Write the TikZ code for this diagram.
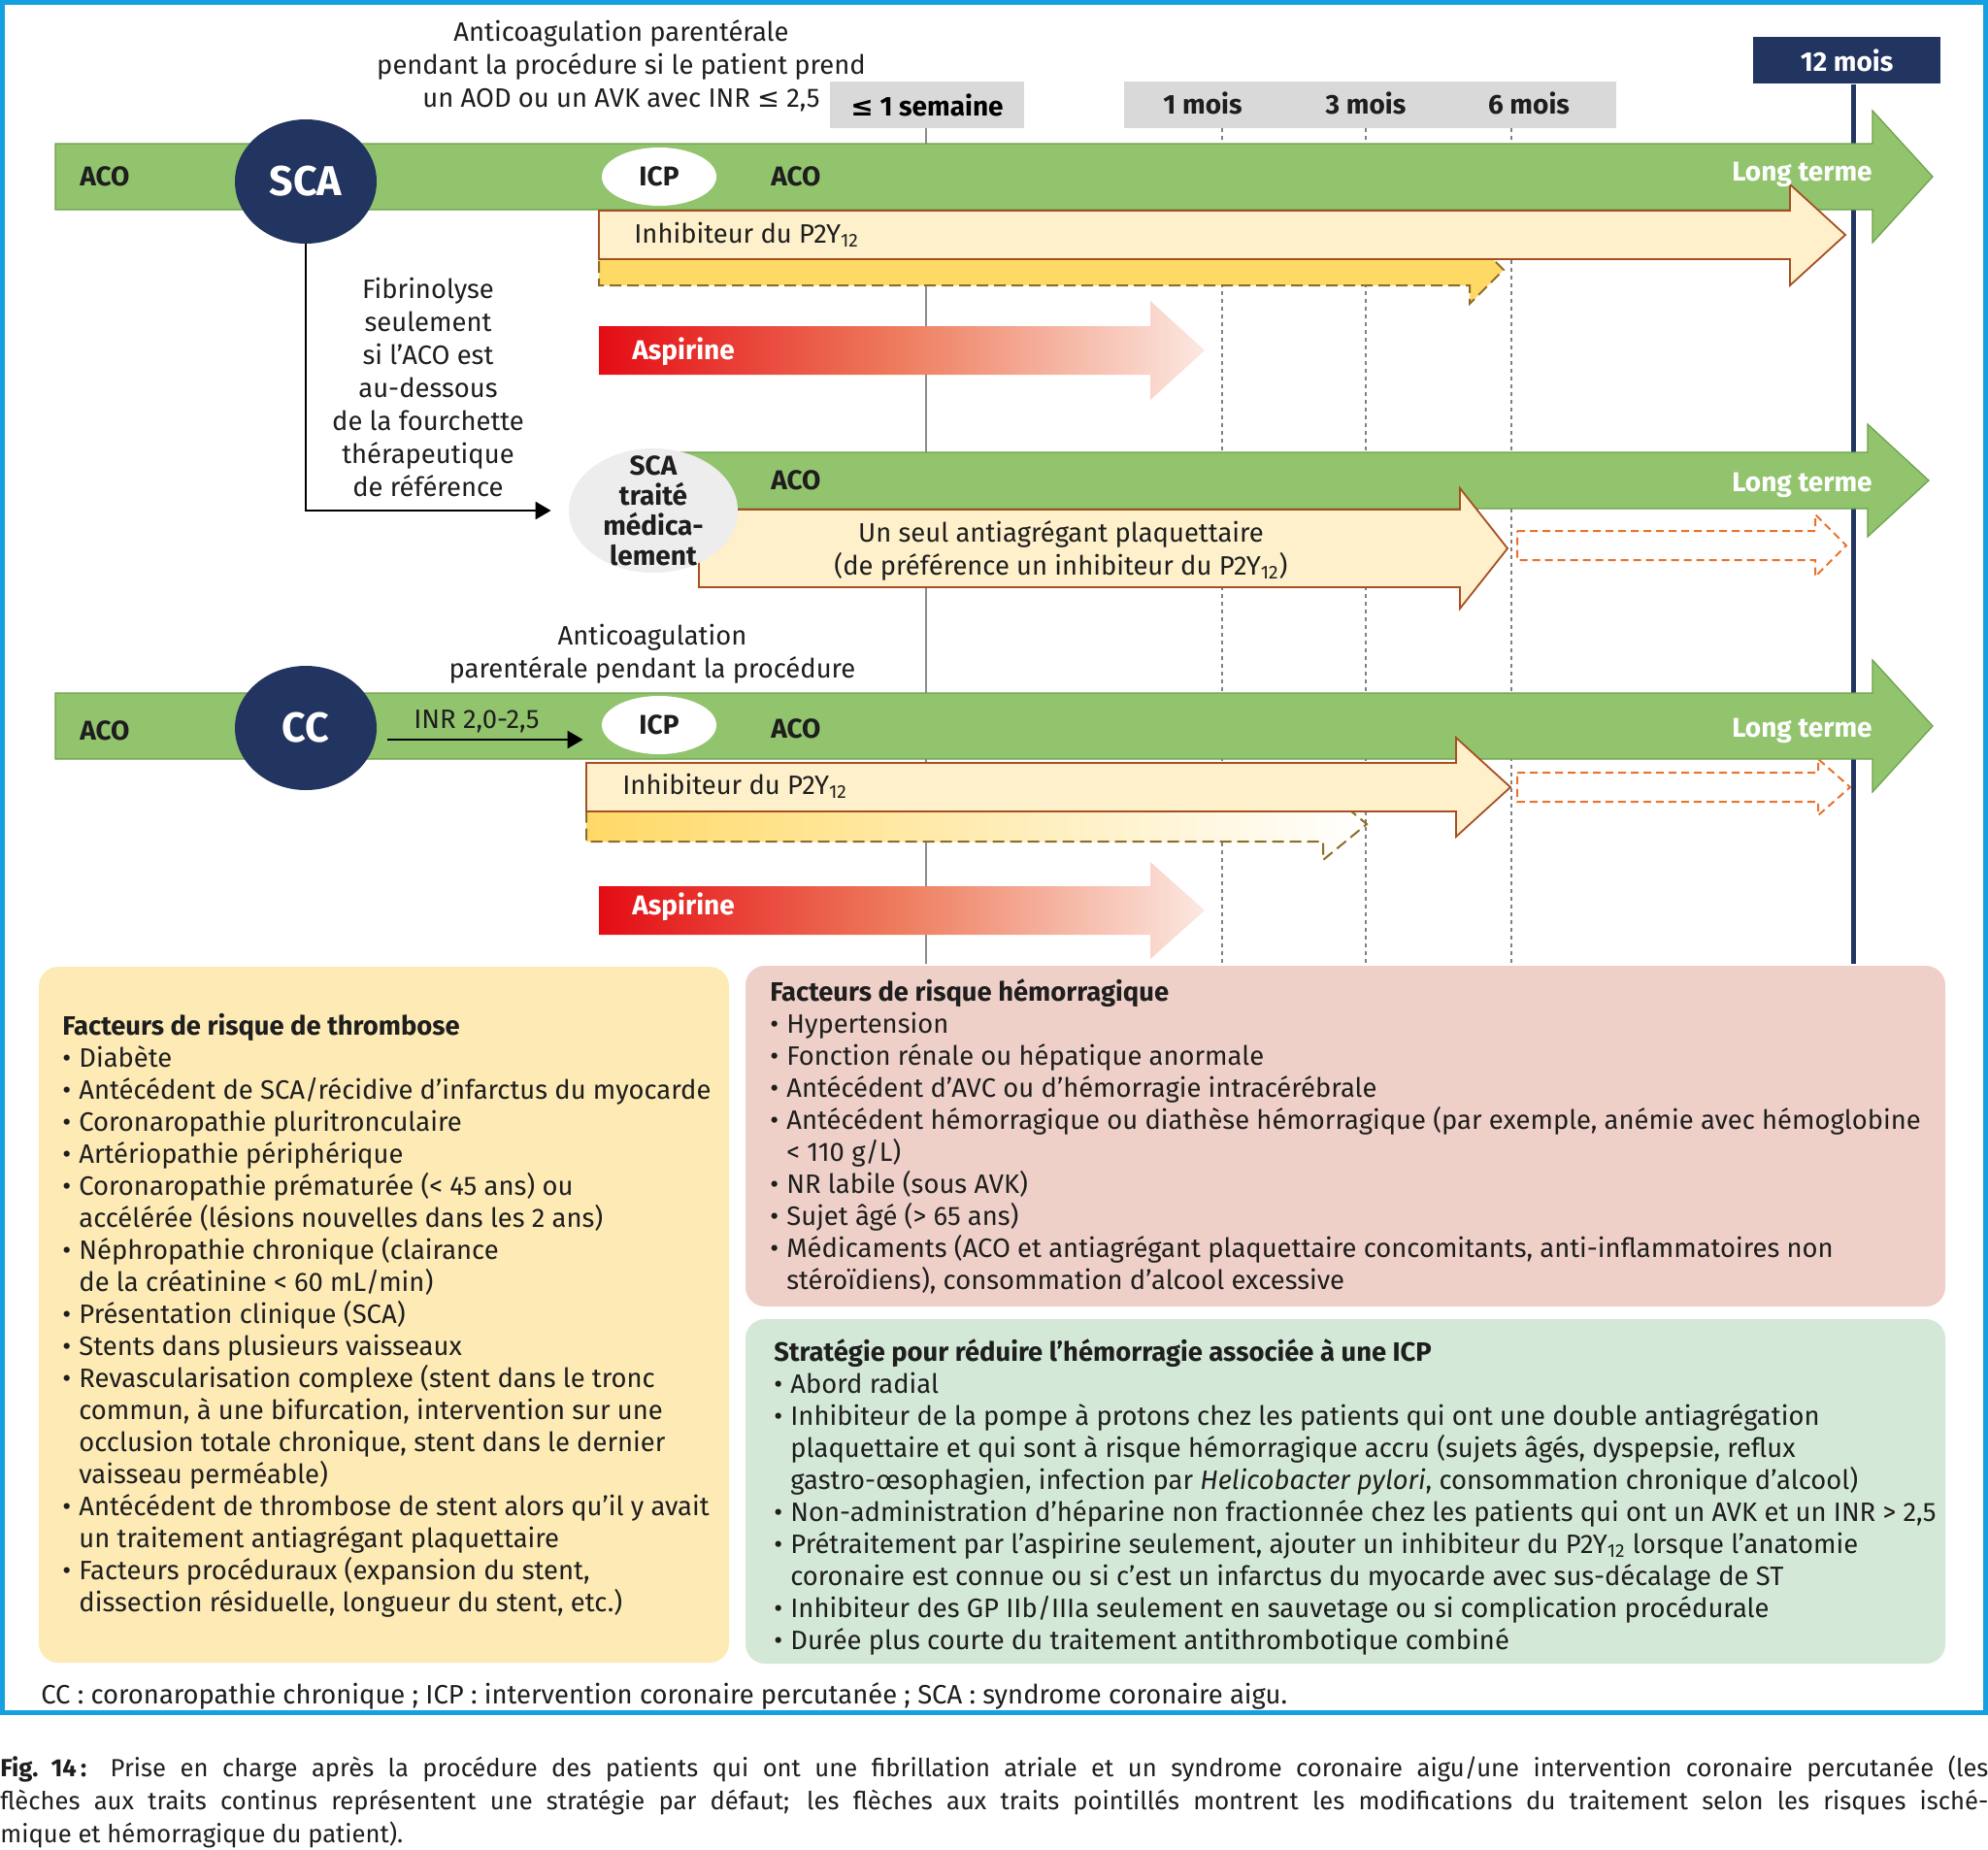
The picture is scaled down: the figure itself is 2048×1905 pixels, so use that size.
\documentclass[tikz,border=0pt]{standalone}
\usepackage{fontspec}
\setmainfont{Fira Sans}
\newfontfamily\dejavu{DejaVu Sans}
\usetikzlibrary{arrows.meta,positioning,shapes.geometric,calc}
\definecolor{frameblue}{RGB}{20,160,225}
\definecolor{leafgreen}{RGB}{146,196,110}
\definecolor{darkleaf}{RGB}{106,160,72}
\definecolor{navy}{RGB}{34,52,96}
\definecolor{cream}{RGB}{254,240,202}
\definecolor{rust}{RGB}{165,80,35}
\definecolor{gold}{RGB}{255,217,102}
\definecolor{olive}{RGB}{140,110,40}
\definecolor{redasp}{RGB}{228,12,20}
\definecolor{salmon}{RGB}{238,125,95}
\definecolor{blush}{RGB}{252,232,225}
\definecolor{tangerine}{RGB}{232,115,45}
\definecolor{greybox}{RGB}{217,217,217}
\definecolor{mist}{RGB}{237,237,237}
\definecolor{sand}{RGB}{253,234,181}
\definecolor{rose}{RGB}{239,208,200}
\definecolor{mint}{RGB}{212,232,216}
\definecolor{ink}{RGB}{30,30,30}
% band arrow: [style] x-left, x-head, x-tip, y-centre, half body, half head
\newcommand{\bandarrow}[7][]{%
  \path[#1] (#2,{#5-#6}) -- (#3,{#5-#6}) -- (#3,{#5-#7}) -- (#4,#5)
    -- (#3,{#5+#7}) -- (#3,{#5+#6}) -- (#2,{#5+#6}) -- cycle;}
\newcommand{\itembul}{\makebox[8.5pt][l]{\textbullet}}
\newcommand{\itemcont}{\hspace*{8.5pt}}
\newcommand{\ptwo}{P2Y\textsubscript{12}}
\newcommand{\capline}[1]{\makebox[1024pt][s]{#1}}
\tikzset{
  >={Triangle[length=8pt,width=9pt]},
  band/.style={fill=leafgreen,draw=darkleaf,line width=0.6pt},
  drug/.style={fill=cream,draw=rust,line width=0.9pt},
  drug dashed/.style={fill=#1,draw=olive,dash pattern=on 6pt off 3pt,line width=1pt},
  drug dashed/.default=gold,
  alt route/.style={draw=tangerine,dash pattern=on 4pt off 2.5pt,line width=1pt},
  aspirin/.style={left color=redasp,right color=blush,middle color=salmon},
  weektick/.style={draw=gray!90,line width=0.8pt},
  dotline/.style={draw=gray,dash pattern=on 2pt off 2pt,line width=0.7pt},
  hub/.style={ellipse,fill=navy,text=white,minimum width=73pt,minimum height=64pt,
    inner sep=0,font=\fontsize{21.5}{22}\selectfont\bfseries},
  proc/.style={ellipse,fill=#1,minimum width=59pt,minimum height=30pt,inner sep=0,
    font=\fontsize{14}{15}\selectfont\bfseries,text=ink},
  proc/.default=white,
  lbl/.style={inner sep=0,font=\fontsize{14}{15}\selectfont\bfseries,text=#1},
  lbl/.default=ink,
  period/.style={fill=greybox,minimum height=24pt,inner sep=0},
  note/.style={inner sep=0,align=center,font=\fontsize{13.7}{17}\selectfont,text=ink},
  panel/.style={fill=#1,rounded corners=10pt},
  listtxt/.style={inner sep=0,align=left,anchor=north west,
    font=\fontsize{13.7}{16.5}\selectfont,text=ink},
}

\begin{document}
\begin{tikzpicture}[x=0.5pt,y=-0.5pt]
  \fill[white] (0,0) rectangle (2048,1905);
  \useasboundingbox (0,0) rectangle (2048,1905);
  \draw[frameblue,line width=2.5pt] (2.5,2.5) rectangle (2045.5,1764);

  % time scale
  \node[period,minimum width=100pt,font=\fontsize{14}{15}\selectfont\bfseries] (wk) at (955,108) {{\dejavu ≤}~1 semaine};
  \node[period,minimum width=253.5pt] (mo) at (1411.5,108) {};
  \node[lbl] (m1) at (1239,106) {1 mois};
  \node[lbl] (m3) at (1407,106) {3 mois};
  \node[lbl] (m6) at (1575,106) {6 mois};
  \node[period,fill=navy,text=white,minimum width=96.5pt,font=\fontsize{14}{15}\selectfont\bfseries] (yr) at (1902.5,62.5) {12 mois};
  \draw[weektick] (954,132) -- (954,993);
  \foreach \x in {1259,1407,1557} \draw[dotline] (\x,132) -- (\x,993);
  \draw[navy,line width=2.5pt] (1909,87) -- (1909,993);

  % SCA row
  \bandarrow[band]{57}{1929}{1991}{182}{34}{68}
  \bandarrow[drug dashed]{617}{1514}{1549}{278}{16}{35}
  \bandarrow[drug]{617}{1844}{1901}{242}{25}{52}
  \bandarrow[aspirin]{617}{1185}{1241}{361}{25}{51}
  \node[hub] (sca) at (315,187) {SCA};
  \node[proc] (icp1) at (679,182) {ICP};
  \node[lbl,anchor=base west] (aco1) at (82,191) {ACO};
  \node[lbl,anchor=base west] (aco2) at (794,191) {ACO};
  \node[lbl=white,anchor=base east] (lt1) at (1929,186) {Long terme};
  \node[note,anchor=base west] (inh1) at (653,250) {Inhibiteur du \ptwo};
  \node[lbl=white,anchor=base west] (asp1) at (651,370) {Aspirine};
  \node[note,anchor=north] (anti1) at (640,20) {Anticoagulation parentérale\\pendant la procédure si le patient prend\\un AOD ou un AVK avec INR {\dejavu ≤} 2,5};

  % medically treated row
  \bandarrow[band]{700}{1924}{1987}{495}{29}{58}
  \bandarrow[drug]{720}{1504}{1553}{565}{40}{62}
  \bandarrow[alt route]{1563}{1870}{1902}{562}{15}{32}
  \node[proc=mist,minimum width=87pt,minimum height=64pt] (scam) at (673,526) {};
  \node[inner sep=0,align=center,font=\fontsize{14}{15.5}\selectfont\bfseries,text=ink] (scamtxt) at (scam.center) {SCA\\traité\\médica-\\lement};
  \node[lbl,anchor=base west] (aco3) at (794,504) {ACO};
  \node[lbl=white,anchor=base east] (lt2) at (1929,506) {Long terme};
  \node[note] (sapt) at (1093,567) {Un seul antiagrégant plaquettaire\\(de préférence un inhibiteur du \ptwo)};
  \node[note,anchor=north] (fib) at (441,286) {Fibrinolyse\\seulement\\si l’ACO est\\au-dessous\\de la fourchette\\thérapeutique\\de référence};
  \draw[->,line width=1.2pt] (sca.south) |- ([xshift=-9pt]scam.west);

  % CC row
  \bandarrow[band]{57}{1929}{1991}{748}{34}{68}
  \bandarrow[drug dashed,left color=gold,middle color=gold!60,right color=white]{604}{1363}{1408}{849}{18}{37}
  \bandarrow[drug]{604}{1500}{1556}{811}{25}{51}
  \bandarrow[alt route]{1563}{1873}{1906}{811}{15}{29}
  \bandarrow[aspirin]{617}{1185}{1241}{938}{25}{50}
  \node[hub] (cc) at (315,750) {CC};
  \node[proc] (icp2) at (679,747) {ICP};
  \node[lbl,anchor=base west] (aco4) at (82,762) {ACO};
  \node[lbl,anchor=base west] (aco5) at (794,760) {ACO};
  \node[lbl=white,anchor=base east] (lt3) at (1929,759) {Long terme};
  \node[note,anchor=base west] (inh2) at (641,818) {Inhibiteur du \ptwo};
  \node[lbl=white,anchor=base west] (asp2) at (651,942) {Aspirine};
  \node[note,anchor=north] (anti2) at (672,643) {Anticoagulation\\parentérale pendant la procédure};
  \node[note,anchor=base] (inr) at (491,750) {INR 2,0-2,5};
  \draw[->,line width=1.2pt] ([shift={(11,12)}]cc.east) -- ([shift={(-19,15)}]icp2.west);

  % risk panels
  \path[panel=sand] (40,996) rectangle (751,1713);
  \path[panel=rose] (768,995) rectangle (2004,1346);
  \path[panel=mint] (768,1359) rectangle (2004,1714);
  \node[listtxt] (thrombo) at (64,1044) {\textbf{Facteurs de risque de thrombose}\\
    \itembul Diabète\\
    \itembul Antécédent de SCA/récidive d’infarctus du myocarde\\
    \itembul Coronaropathie pluritronculaire\\
    \itembul Artériopathie périphérique\\
    \itembul Coronaropathie prématurée (< 45 ans) ou\\
    \itemcont accélérée (lésions nouvelles dans les 2 ans)\\
    \itembul Néphropathie chronique (clairance\\
    \itemcont de la créatinine < 60 mL/min)\\
    \itembul Présentation clinique (SCA)\\
    \itembul Stents dans plusieurs vaisseaux\\
    \itembul Revascularisation complexe (stent dans le tronc\\
    \itemcont commun, à une bifurcation, intervention sur une\\
    \itemcont occlusion totale chronique, stent dans le dernier\\
    \itemcont vaisseau perméable)\\
    \itembul Antécédent de thrombose de stent alors qu’il y avait\\
    \itemcont un traitement antiagrégant plaquettaire\\
    \itembul Facteurs procéduraux (expansion du stent,\\
    \itemcont dissection résiduelle, longueur du stent, etc.)};
  \node[listtxt] (hemo) at (793,1008) {\textbf{Facteurs de risque hémorragique}\\
    \itembul Hypertension\\
    \itembul Fonction rénale ou hépatique anormale\\
    \itembul Antécédent d’AVC ou d’hémorragie intracérébrale\\
    \itembul Antécédent hémorragique ou diathèse hémorragique (par exemple, anémie avec hémoglobine\\
    \itemcont < 110 g/L)\\
    \itembul NR labile (sous AVK)\\
    \itembul Sujet âgé (> 65 ans)\\
    \itembul Médicaments (ACO et antiagrégant plaquettaire concomitants, anti-inflammatoires non\\
    \itemcont stéroïdiens), consommation d’alcool excessive};
  \node[listtxt] (strat) at (797,1379) {\textbf{Stratégie pour réduire l’hémorragie associée à une ICP}\\
    \itembul Abord radial\\
    \itembul Inhibiteur de la pompe à protons chez les patients qui ont une double antiagrégation\\
    \itemcont plaquettaire et qui sont à risque hémorragique accru (sujets âgés, dyspepsie, reflux\\
    \itemcont gastro-œsophagien, infection par \textit{Helicobacter pylori}, consommation chronique d’alcool)\\
    \itembul Non-administration d’héparine non fractionnée chez les patients qui ont un AVK et un INR > 2,5\\
    \itembul Prétraitement par l’aspirine seulement, ajouter un inhibiteur du \ptwo{} lorsque l’anatomie\\
    \itemcont coronaire est connue ou si c’est un infarctus du myocarde avec sus-décalage de ST\\
    \itembul Inhibiteur des GP IIb/IIIa seulement en sauvetage ou si complication procédurale\\
    \itembul Durée plus courte du traitement antithrombotique combiné};

  % abbreviations and caption
  \node[inner sep=0,anchor=base west,font=\fontsize{13.7}{16}\selectfont,text=ink] (abbr) at (42,1755) {CC : coronaropathie chronique ; ICP : intervention coronaire percutanée ; SCA : syndrome coronaire aigu.};
  \node[inner sep=0,anchor=north west,align=left,font=\fontsize{12.8}{17}\selectfont,text=ink] (cap) at (0,1808) {\capline{\textbf{Fig.~14\,:} Prise en charge après la procédure des patients qui ont une fibrillation atriale et un syndrome coronaire aigu/une intervention coronaire percutanée (les}\\
    \capline{flèches aux traits continus représentent une stratégie par défaut; les flèches aux traits pointillés montrent les modifications du traitement selon les risques isché-}\\
    mique et hémorragique du patient).};
\end{tikzpicture}
\end{document}
